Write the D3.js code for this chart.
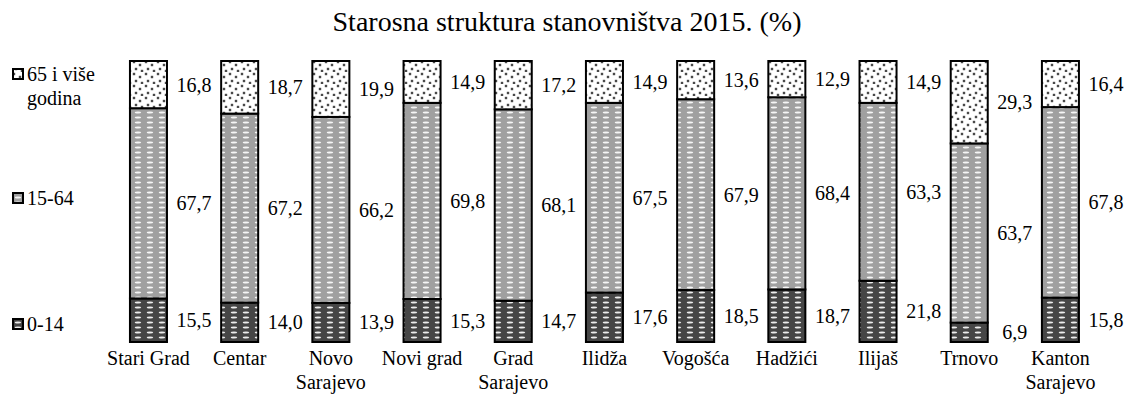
<!DOCTYPE html>
<html>
<head>
<meta charset="utf-8">
<script src="https://cdn.jsdelivr.net/npm/d3@7"></script>
<style>
  html, body { margin: 0; padding: 0; background: #fff; }
  svg { display: block; }
  text { font-family: "Liberation Serif", "Times New Roman", serif; }
</style>
</head>
<body>
<script>
const categories = ["Stari Grad", "Centar", "Novo Sarajevo", "Novi grad", "Grad Sarajevo",
  "Ilidža", "Vogošća", "Hadžići", "Ilijaš", "Trnovo", "Kanton Sarajevo"];
const age0to14 = [15.5, 14.0, 13.9, 15.3, 14.7, 17.6, 18.5, 18.7, 21.8, 6.9, 15.8];
const age15to64 = [67.7, 67.2, 66.2, 69.8, 68.1, 67.5, 67.9, 68.4, 63.3, 63.7, 67.8];
const age65plus = [16.8, 18.7, 19.9, 14.9, 17.2, 14.9, 13.6, 12.9, 14.9, 29.3, 16.4];
const seriesNames = ["0-14", "15-64", "65 i više godina"];

const width = 1124;
const height = 403;
const serif = "Liberation Serif";

const rows = categories.map((c, i) => ({
  name: c,
  s0: age0to14[i],
  s1: age15to64[i],
  s2: age65plus[i]
}));

const svg = d3.select("body").append("svg")
  .attr("width", width)
  .attr("height", height)
  .attr("font-family", serif);

// patterns
const defs = svg.append("defs");

const dots = defs.append("pattern")
  .attr("id", "pat2")
  .attr("patternUnits", "userSpaceOnUse")
  .attr("width", 12).attr("height", 12);
dots.append("rect").attr("width", 12).attr("height", 12).attr("fill", "#fff");
[[2, 2], [8, 5], [4, 9], [10, 11]].forEach(p => {
  dots.append("circle").attr("cx", p[0]).attr("cy", p[1]).attr("r", 1.7).attr("fill", "#bbb");
  dots.append("circle").attr("cx", p[0]).attr("cy", p[1]).attr("r", 1).attr("fill", "#222");
});

function dashPattern(id, bg) {
  const p = defs.append("pattern")
    .attr("id", id)
    .attr("patternUnits", "userSpaceOnUse")
    .attr("width", 12).attr("height", 5);
  p.append("rect").attr("width", 12).attr("height", 5).attr("fill", bg);
  p.append("ellipse").attr("cx", 6).attr("cy", 2.5).attr("rx", 3.2).attr("ry", 1.1)
    .attr("fill", "#fff").attr("opacity", 0.9);
}
dashPattern("pat1", "#a0a0a0");
dashPattern("pat0", "#464646");

const fills = ["url(#pat0)", "url(#pat1)", "url(#pat2)"];

const x = d3.scaleBand()
  .domain(categories)
  .range([102.6, 1106.3])
  .paddingInner(0.594)
  .paddingOuter(0.3);

const y = d3.scaleLinear()
  .domain([0, 1])
  .range([342, 61]);

const stack = d3.stack()
  .keys(["s0", "s1", "s2"])
  .offset(d3.stackOffsetExpand);
const layers = stack(rows);

const fmt = v => d3.format(".1f")(v).replace(".", ",");

// title
svg.append("text")
  .attr("x", 567)
  .attr("y", 31)
  .attr("text-anchor", "middle")
  .attr("font-family", serif)
  .attr("font-size", 28)
  .attr("fill", "#000")
  .text("Starosna struktura stanovništva 2015. (%)");

// bars
const layer = svg.append("g").selectAll("g")
  .data(layers)
  .enter().append("g");

layer.selectAll("rect")
  .data(d => d)
  .enter().append("rect")
  .attr("x", d => x(d.data.name))
  .attr("y", d => y(d[1]))
  .attr("width", x.bandwidth())
  .attr("height", d => y(d[0]) - y(d[1]))
  .attr("fill", function () { return fills[layers.indexOf(d3.select(this.parentNode).datum())]; })
  .attr("stroke", "#000")
  .attr("stroke-width", 2);

// data labels to the right of each segment
const step = x.step();
layer.selectAll("text")
  .data(d => d.map(v => ({ v: v, key: d.key })))
  .enter().append("text")
  .attr("x", d => x(d.v.data.name) + x.bandwidth() + (step - x.bandwidth()) / 2)
  .attr("y", d => y((d.v[0] + d.v[1]) / 2))
  .attr("dy", "0.35em")
  .attr("text-anchor", "middle")
  .attr("font-family", serif)
  .attr("font-size", 20)
  .attr("fill", "#000")
  .text(d => fmt(d.v.data[d.key]));

// category labels (wrapped)
const catG = svg.append("g");
categories.forEach(c => {
  const cx = x(c) + x.bandwidth() / 2;
  const t = catG.append("text")
    .attr("x", cx)
    .attr("y", 365)
    .attr("text-anchor", "middle")
    .attr("font-family", serif)
    .attr("font-size", 20)
    .attr("fill", "#000");
  let line = [];
  let tspan = t.append("tspan").attr("x", cx).attr("dy", 0);
  c.split(" ").forEach(w => {
    line.push(w);
    tspan.text(line.join(" "));
    if (tspan.node().getComputedTextLength() > step - 4 && line.length > 1) {
      line.pop();
      tspan.text(line.join(" "));
      line = [w];
      tspan = t.append("tspan").attr("x", cx).attr("dy", 24).text(w);
    }
  });
});

// legend
const legendY = [324, 198, 74];
const legend = svg.append("g");
seriesNames.forEach((n, i) => {
  legend.append("rect")
    .attr("x", 13).attr("y", legendY[i] - 5)
    .attr("width", 10).attr("height", 10)
    .attr("fill", fills[i])
    .attr("stroke", "#000")
    .attr("stroke-width", 2);
  const t = legend.append("text")
    .attr("x", 27).attr("y", legendY[i])
    .attr("dy", "0.35em")
    .attr("font-family", serif)
    .attr("font-size", 20)
    .attr("fill", "#000");
  if (i === 2) {
    t.append("tspan").attr("x", 27).text("65 i više");
    t.append("tspan").attr("x", 27).attr("dy", 24).text("godina");
  } else {
    t.text(n);
  }
});
</script>
</body>
</html>
